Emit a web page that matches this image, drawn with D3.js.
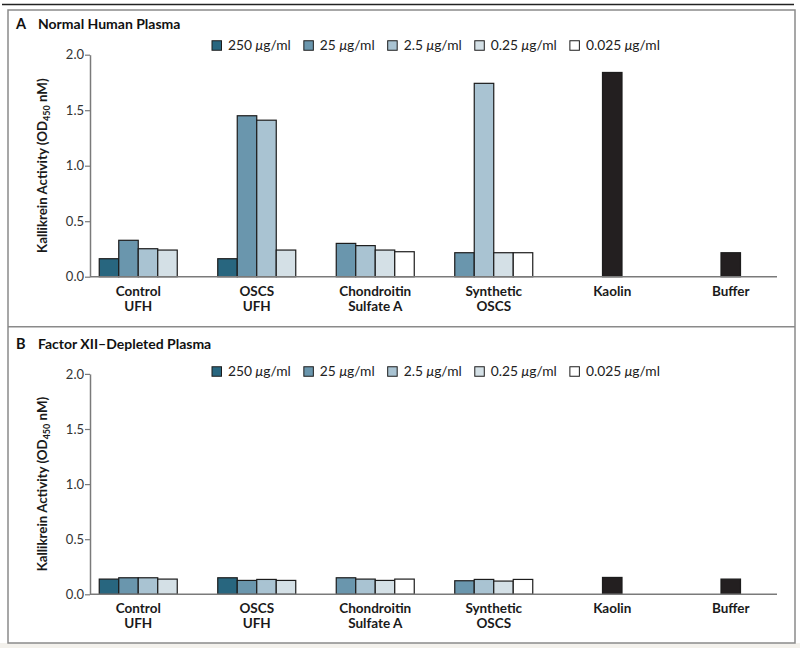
<!DOCTYPE html>
<html>
<head>
<meta charset="utf-8">
<script src="https://cdn.jsdelivr.net/npm/d3@7"></script>
<style>
  body { margin: 0; background: #fff; }
  svg { display: block; font-family: Lato, "Noto Sans", sans-serif; }
</style>
</head>
<body>
<svg id="chart" width="800" height="648"></svg>
<script>
// categories
const groups = ["Control UFH", "OSCS UFH", "Chondroitin Sulfate A", "Synthetic OSCS", "Kaolin", "Buffer"];
const groupLines = [["Control", "UFH"], ["OSCS", "UFH"], ["Chondroitin", "Sulfate A"], ["Synthetic", "OSCS"], ["Kaolin"], ["Buffer"]];
const concLabels = ["250", "25", "2.5", "0.25", "0.025"];
const concColors = ["#28667f", "#6a96ad", "#a9c3d2", "#d4e0e6", "#ffffff"];
const controlColor = "#231f20";
const yTicks = [0, 0.5, 1.0, 1.5, 2.0];

// panel A - normal human plasma (first 4 groups, per concentration)
const a250 = [0.162, 0.162, null, null];
const a25 = [0.328, 1.45, 0.30, 0.216];
const a2_5 = [0.252, 1.41, 0.28, 1.742];
const a0_25 = [0.24, 0.24, 0.24, 0.216];
const a0_025 = [null, null, 0.225, 0.216];
const aControls = [1.84, 0.216]; // Kaolin, Buffer

// panel B - factor XII-depleted plasma
const b250 = [0.138, 0.15, null, null];
const b25 = [0.15, 0.126, 0.15, 0.123];
const b2_5 = [0.15, 0.135, 0.138, 0.135];
const b0_25 = [0.138, 0.126, 0.126, 0.12];
const b0_025 = [null, null, 0.138, 0.135];
const bControls = [0.153, 0.138];

const svg = d3.select("#chart");
const barW = 19.5;

// frame
svg.append("rect").attr("x", 0).attr("y", 643).attr("width", 800).attr("height", 5).attr("fill", "#f3f1ec");
svg.append("line").attr("x1", 2).attr("x2", 794).attr("y1", 4.5).attr("y2", 4.5)
    .attr("stroke", "#222").attr("stroke-width", 1.5);
svg.append("rect").attr("x", 8).attr("y", 10).attr("width", 787).attr("height", 633)
    .attr("fill", "none").attr("stroke", "#8a8a8a").attr("stroke-width", 1.5);
svg.append("line").attr("x1", 8).attr("x2", 795).attr("y1", 326.7).attr("y2", 326.7)
    .attr("stroke", "#8a8a8a").attr("stroke-width", 1.5);

function drawPanel(opt) {
    const g = svg.append("g");
    const series = opt.series;

    // title
    const t = g.append("text").attr("x", 16).attr("y", opt.titleY)
        .attr("font-size", 14.5).attr("font-weight", 700).attr("fill", "#111");
    t.append("tspan").text(opt.letter);
    t.append("tspan").attr("x", 38).attr("font-size", 14).text(opt.title);

    // legend
    let lx = 212;
    concLabels.forEach((c, i) => {
        g.append("rect").attr("x", lx).attr("y", opt.legendY - 4.75).attr("width", 9.5).attr("height", 9.5)
            .attr("fill", concColors[i]).attr("stroke", "#1c1c1c").attr("stroke-width", 1);
        const lt = g.append("text").attr("x", lx + 16).attr("y", opt.legendY + 4.8)
            .attr("font-size", 13.8).attr("fill", "#222");
        lt.append("tspan").text(c + " ");
        lt.append("tspan").attr("font-style", "italic").text("\u03bc");
        lt.append("tspan").text("g/ml");
        lx += 16 + lt.node().getComputedTextLength() + 13;
    });

    const x = d3.scaleBand().domain(groups).range([79, 790]);
    const y = d3.scaleLinear().domain([0, 2]).range([opt.y0, opt.y2]);

    // bars for each group
    groups.forEach((grp, gi) => {
        let items;
        if (gi < 4) {
            items = series.map((s, ci) => ({ ci, v: s[gi] })).filter(d => d.v != null);
        } else {
            items = [{ ci: -1, v: opt.controls[gi - 4] }];
        }
        const cx = x(grp) + x.bandwidth() / 2;
        const inner = d3.scaleBand().domain(items.map(d => d.ci))
            .range([cx - items.length * barW / 2, cx + items.length * barW / 2]);
        g.selectAll(null).data(items).join("rect")
            .attr("x", d => inner(d.ci))
            .attr("y", d => y(d.v))
            .attr("width", inner.bandwidth())
            .attr("height", d => y(0) - y(d.v))
            .attr("fill", d => d.ci < 0 ? controlColor : concColors[d.ci])
            .attr("stroke", "#1c1c1c").attr("stroke-width", 1.2);

        const lab = g.append("text").attr("text-anchor", "middle")
            .attr("font-size", 13.5).attr("font-weight", 700).attr("fill", "#1a1a1a");
        groupLines[gi].forEach((ln, li) => {
            lab.append("tspan").attr("x", cx).attr("y", opt.labelY + li * opt.labelGap).text(ln);
        });
    });

    // axes
    g.append("line").attr("x1", 90).attr("x2", 777).attr("y1", y(0)).attr("y2", y(0))
        .attr("stroke", "#7a7a7a").attr("stroke-width", 1.5);
    const ax = g.append("g").attr("transform", "translate(90,0)")
        .call(d3.axisLeft(y).tickValues(yTicks).tickFormat(d3.format(".1f")).tickSize(5).tickSizeOuter(0));
    ax.select(".domain").attr("stroke", "#7a7a7a").attr("stroke-width", 1.5);
    ax.selectAll(".tick line").attr("stroke", "#7a7a7a").attr("stroke-width", 1.2);
    ax.selectAll(".tick text").attr("font-size", 13).attr("fill", "#333")
        .attr("font-family", "Lato, sans-serif").attr("x", -6);

    const yt = g.append("text")
        .attr("transform", `translate(47,${(y(0) + y(2)) / 2}) rotate(-90)`)
        .attr("text-anchor", "middle").attr("font-size", 13.3).attr("font-weight", 700).attr("fill", "#1a1a1a");
    yt.append("tspan").text("Kallikrein Activity (OD");
    yt.append("tspan").attr("font-size", 9).attr("dy", 3).text("450");
    yt.append("tspan").attr("dy", -3).text(" nM)");
}

drawPanel({
    letter: "A", title: "Normal Human Plasma", titleY: 29, legendY: 45.5,
    y0: 276.7, y2: 54.7, labelY: 295.7, labelGap: 15,
    series: [a250, a25, a2_5, a0_25, a0_025], controls: aControls
});
drawPanel({
    letter: "B", title: "Factor XII\u2013Depleted Plasma", titleY: 349, legendY: 371.5,
    y0: 594.3, y2: 373.9, labelY: 612.7, labelGap: 15.5,
    series: [b250, b25, b2_5, b0_25, b0_025], controls: bControls
});
</script>
</body>
</html>
